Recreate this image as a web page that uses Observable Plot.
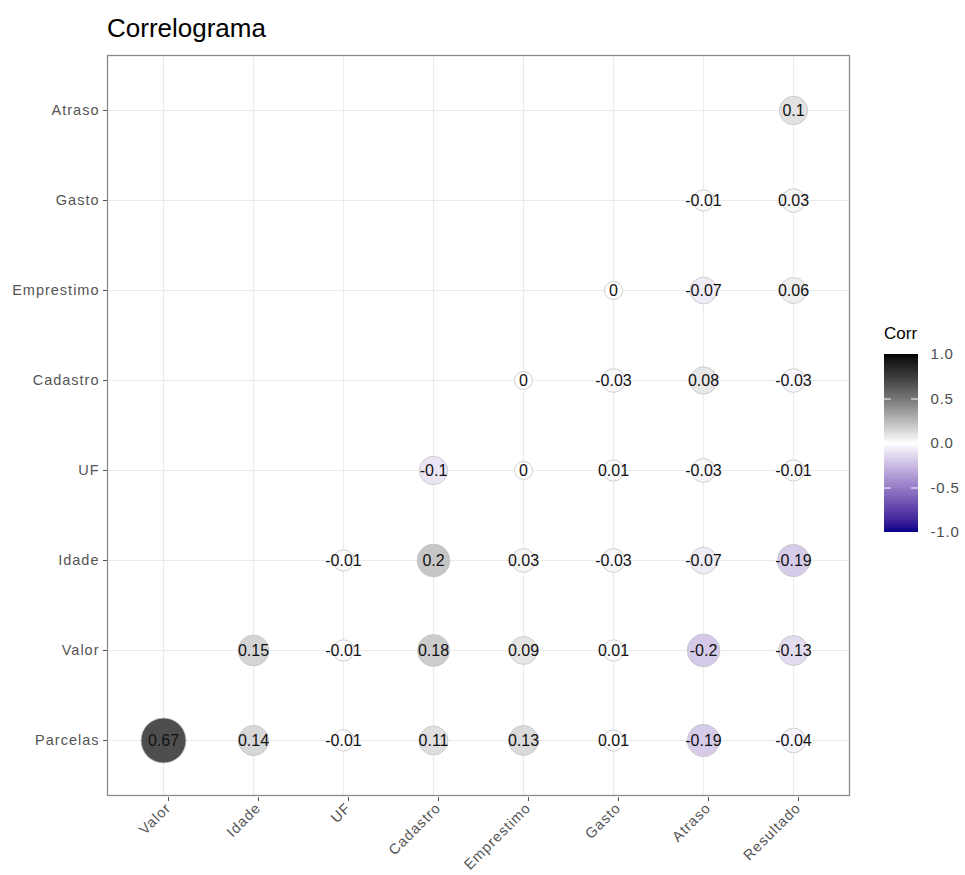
<!DOCTYPE html>
<html>
<head>
<meta charset="utf-8">
<script src="https://cdn.jsdelivr.net/npm/d3@7"></script>
<script src="https://cdn.jsdelivr.net/npm/@observablehq/plot@0.6"></script>
<style>
  html, body { margin: 0; padding: 0; background: #fff; }
  #wrap { position: relative; width: 965px; height: 875px; font-family: "Liberation Sans", Arial, sans-serif; }
  #title { position: absolute; left: 107px; top: 15px; font-size: 26px; line-height: 26px; color: #000; }
  #main { position: absolute; left: 0; top: 0; width: 870px; }
  #legTitle { position: absolute; left: 884px; top: 325px; font-size: 17px; line-height: 17px; color: #000; }
  #legend { position: absolute; left: 884px; top: 344px; width: 84px; }
  #wrap svg { max-width: none !important; }
  svg text { font-family: "Liberation Sans", Arial, sans-serif; }
</style>
</head>
<body>
<div id="wrap">
  <div id="main"></div>
  <div id="title">Correlograma</div>
  <div id="legTitle">Corr</div>
  <div id="legend"></div>
</div>
<script>
// Variables along each axis
const xVars = ["Valor", "Idade", "UF", "Cadastro", "Emprestimo", "Gasto", "Atraso", "Resultado"];
const yVars = ["Atraso", "Gasto", "Emprestimo", "Cadastro", "UF", "Idade", "Valor", "Parcelas"];

// Lower-triangle correlations, one row per y variable (columns follow xVars; null = not shown)
const corrAtraso     = [null, null, null, null, null, null, null, 0.1];
const corrGasto      = [null, null, null, null, null, null, -0.01, 0.03];
const corrEmprestimo = [null, null, null, null, null, 0, -0.07, 0.06];
const corrCadastro   = [null, null, null, null, 0, -0.03, 0.08, -0.03];
const corrUF         = [null, null, null, -0.1, 0, 0.01, -0.03, -0.01];
const corrIdade      = [null, null, -0.01, 0.2, 0.03, -0.03, -0.07, -0.19];
const corrValor      = [null, 0.15, -0.01, 0.18, 0.09, 0.01, -0.2, -0.13];
const corrParcelas   = [0.67, 0.14, -0.01, 0.11, 0.13, 0.01, -0.19, -0.04];

// Legend ticks
const legendTicks = [-1, -0.5, 0, 0.5, 1];

const rows = {
  Atraso: corrAtraso, Gasto: corrGasto, Emprestimo: corrEmprestimo, Cadastro: corrCadastro,
  UF: corrUF, Idade: corrIdade, Valor: corrValor, Parcelas: corrParcelas
};

const cells = [];
for (const y of yVars) {
  rows[y].forEach((v, i) => {
    if (v !== null) cells.push({x: xVars[i], y, value: v});
  });
}
const maxAbs = d3.max(cells, d => Math.abs(d.value));

const colorScale = {
  type: "linear",
  domain: [-1, 0, 1],
  range: ["#00008B", "#FFFFFF", "#000000"],
  interpolate: "lab"
};

const chart = Plot.plot({
  width: 870,
  height: 875,
  marginLeft: 107,
  marginRight: 21,
  marginTop: 55,
  marginBottom: 80,
  style: {fontFamily: "Liberation Sans, Arial, sans-serif", background: "transparent", overflow: "visible"},
  x: {type: "point", domain: xVars, padding: 0.6, label: null},
  y: {type: "point", domain: yVars, padding: 0.6, label: null},
  r: {type: "sqrt", domain: [0, maxAbs], range: [9, 22.5]},
  color: colorScale,
  marks: [
    Plot.gridX({stroke: "#ebebeb", strokeOpacity: 1, strokeWidth: 1.1}),
    Plot.gridY({stroke: "#ebebeb", strokeOpacity: 1, strokeWidth: 1.1}),
    Plot.frame({stroke: "#8a8a8a", strokeWidth: 1.3}),
    Plot.axisY({tickSize: 4, tickPadding: 4, color: "#555", fontSize: 14.5}),
    Plot.axisX({tickSize: 4, tickPadding: 4, tickRotate: -45, color: "#555", fontSize: 14.5, dx: 5, dy: 2}),
    Plot.dot(cells, {x: "x", y: "y", r: d => Math.abs(d.value), fill: "value", stroke: "#c4c4c4", strokeWidth: 0.8}),
    Plot.text(cells, {x: "x", y: "y", text: d => String(d.value), fontSize: 16, fill: "#111"})
  ]
});
chart.querySelectorAll("[aria-label='x-axis tick label'] text, [aria-label='y-axis tick label'] text")
  .forEach(t => t.setAttribute("letter-spacing", "1"));
document.getElementById("main").appendChild(chart);

// Vertical colour bar: overlapping slices so no background shows between them
const step = 0.01;
const slices = d3.range(-1, 1 - step / 2, step).map(v => ({
  y1: v, y2: Math.min(1, v + 2 * step), v: v + step / 2
}));
const legend = Plot.plot({
  width: 84,
  height: 198,
  marginLeft: 0,
  marginRight: 50,
  marginTop: 10,
  marginBottom: 10,
  style: {fontFamily: "Liberation Sans, Arial, sans-serif", background: "transparent", overflow: "visible"},
  x: {domain: [0, 1], axis: null},
  y: {domain: [-1, 1], label: null},
  color: colorScale,
  marks: [
    Plot.rectY(slices, {x1: 0, x2: 1, y1: "y1", y2: "y2", fill: "v", shapeRendering: "crispEdges"}),
    Plot.ruleY(legendTicks.slice(1, -1), {x1: 0, x2: 0.2, stroke: "#fff", strokeWidth: 1}),
    Plot.ruleY(legendTicks.slice(1, -1), {x1: 0.8, x2: 1, stroke: "#fff", strokeWidth: 1}),
    Plot.axisY(legendTicks, {anchor: "right", tickSize: 0, tickPadding: 12, tickFormat: d => d.toFixed(1), color: "#4d4d4d", fontSize: 15})
  ]
});
legend.querySelectorAll("[aria-label='y-axis tick label'] text")
  .forEach(t => t.setAttribute("letter-spacing", "0.8"));
document.getElementById("legend").appendChild(legend);
</script>
</body>
</html>
